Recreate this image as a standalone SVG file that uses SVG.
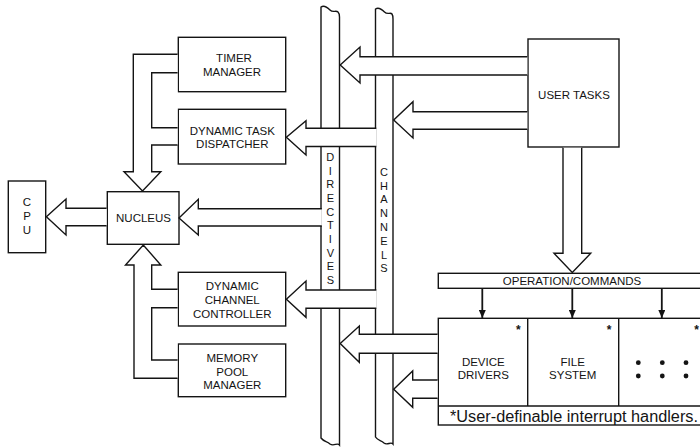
<svg xmlns="http://www.w3.org/2000/svg" width="700" height="447" viewBox="0 0 700 447">
<defs>
<style>
.bx{fill:#fff;stroke:#141414;stroke-width:1.4}
.ln{fill:none;stroke:#141414;stroke-width:1.4}
.ar{fill:#fff;stroke:#141414;stroke-width:1.4;stroke-linejoin:miter}
.t{font-family:"Liberation Sans",Arial,sans-serif;font-size:11.5px;fill:#141414;text-anchor:middle}
.v{font-family:"Liberation Sans",Arial,sans-serif;font-size:11px;fill:#141414;text-anchor:middle}
.st{font-family:"Liberation Sans",Arial,sans-serif;font-size:12px;font-weight:bold;fill:#141414;text-anchor:middle}
.fn{font-family:"Liberation Sans",Arial,sans-serif;font-size:16px;fill:#141414}
.sm{stroke:#141414;stroke-width:1.8;fill:none}
</style>
<marker id="ah" viewBox="0 0 8 7" refX="8" refY="3.5" markerWidth="8" markerHeight="7" markerUnits="userSpaceOnUse" orient="auto">
<path d="M0,0 L8,3.5 L0,7 Z" fill="#141414"/>
</marker>
</defs>
<rect width="700" height="447" fill="#fff"/>

<g id="bus-directives">
<path class="bx" d="M321,7 C324,5 327,7 330,10 C333,13 336,10 338,12 C339.5,13.5 339.5,15 339.5,17 V445 C337,442 334,447 330,444 C327,441 324,442 321,438 Z"/>
<text class="v" x="330.3" y="161">D</text>
<text class="v" x="330.3" y="174.7">I</text>
<text class="v" x="330.3" y="188.3">R</text>
<text class="v" x="330.3" y="202">E</text>
<text class="v" x="330.3" y="215.7">C</text>
<text class="v" x="330.3" y="229.3">T</text>
<text class="v" x="330.3" y="243">I</text>
<text class="v" x="330.3" y="256.7">V</text>
<text class="v" x="330.3" y="270.3">E</text>
<text class="v" x="330.3" y="284">S</text>
</g>

<g id="bus-channels">
<path class="bx" d="M375.5,9 C378.5,7 381.5,9 384.5,12 C387.5,15 390.5,12 392,14 C393,15.5 393,17 393,19 V444 C390.5,441 387.5,446 384,443 C381,440 378,441 375.5,437 Z"/>
<text class="v" x="384" y="175.7">C</text>
<text class="v" x="384" y="189.5">H</text>
<text class="v" x="384" y="203.3">A</text>
<text class="v" x="384" y="217.1">N</text>
<text class="v" x="384" y="230.9">N</text>
<text class="v" x="384" y="244.7">E</text>
<text class="v" x="384" y="258.5">L</text>
<text class="v" x="384" y="272.3">S</text>
</g>

<g id="cpu">
<rect class="bx" x="8.3" y="181" width="37.4" height="71.7"/>
<text class="t" x="27" y="205.8">C</text>
<text class="t" x="27" y="220.1">P</text>
<text class="t" x="27" y="234.4">U</text>
</g>

<g id="nucleus">
<rect class="bx" x="107.3" y="191.7" width="71.7" height="52.6"/>
<text class="t" x="143.5" y="222.3">NUCLEUS</text>
</g>

<g id="timer-manager">
<rect class="bx" x="178.3" y="37.3" width="107.4" height="54.4"/>
<text class="t" x="234" y="62.3">TIMER</text>
<text class="t" x="232" y="76.3">MANAGER</text>
</g>

<g id="dynamic-task-dispatcher">
<rect class="bx" x="178.3" y="109.3" width="107.4" height="54.7"/>
<text class="t" x="232.3" y="135">DYNAMIC TASK</text>
<text class="t" x="232.3" y="148.3">DISPATCHER</text>
</g>

<g id="dynamic-channel-controller">
<rect class="bx" x="178.3" y="272.3" width="107.4" height="53.7"/>
<text class="t" x="232.3" y="290.1">DYNAMIC</text>
<text class="t" x="232.3" y="304.1">CHANNEL</text>
<text class="t" x="232.3" y="318.1">CONTROLLER</text>
</g>

<g id="memory-pool-manager">
<rect class="bx" x="178.3" y="344" width="107.4" height="52.7"/>
<text class="t" x="232.3" y="361.8">MEMORY</text>
<text class="t" x="232.3" y="375.8">POOL</text>
<text class="t" x="232.3" y="389.3">MANAGER</text>
</g>

<g id="user-tasks">
<rect class="bx" x="528" y="39" width="91" height="108"/>
<text class="t" x="574" y="99.2">USER TASKS</text>
</g>

<g id="operation-commands">
<rect class="bx" x="438.3" y="273.3" width="270" height="15"/>
<text class="t" x="572" y="285.3">OPERATION/COMMANDS</text>
</g>

<g id="handlers">
<rect class="bx" x="438.3" y="318.3" width="270" height="106.7"/>
<line class="ln" x1="438.3" y1="406" x2="705" y2="406"/>
<line class="ln" x1="527.7" y1="318.3" x2="527.7" y2="406"/>
<line class="ln" x1="618.7" y1="318.3" x2="618.7" y2="406"/>
<g id="device-drivers">
<text class="st" x="518.3" y="333.5">*</text>
<text class="t" x="483.3" y="365.8">DEVICE</text>
<text class="t" x="483.3" y="379.2">DRIVERS</text>
</g>
<g id="file-system">
<text class="st" x="609" y="333.5">*</text>
<text class="t" x="572.7" y="365.8">FILE</text>
<text class="t" x="572.7" y="379.2">SYSTEM</text>
</g>
<g id="more-handlers">
<text class="st" x="696.7" y="333.5">*</text>
<circle cx="638.3" cy="362.7" r="2.4" fill="#141414"/>
<circle cx="662.3" cy="362.7" r="2.4" fill="#141414"/>
<circle cx="686" cy="362.7" r="2.4" fill="#141414"/>
<circle cx="638.3" cy="376" r="2.4" fill="#141414"/>
<circle cx="662.3" cy="376" r="2.4" fill="#141414"/>
<circle cx="686" cy="376" r="2.4" fill="#141414"/>
</g>
<text class="fn" x="450" y="421.5" textLength="248" lengthAdjust="spacingAndGlyphs">*User-definable interrupt handlers.</text>
</g>

<g id="connectors">
<!-- user tasks to directives -->
<path class="ar" d="M527.3,56.7 H360 V47 L340.2,65 L360,83 V75 H527.3"/>
<!-- user tasks to channels -->
<path class="ar" d="M527.3,111.7 H413 V101.7 L393.7,120 L413,138 V129.3 H527.3"/>
<!-- channels to dynamic task dispatcher -->
<path class="ar" d="M376.3,128.3 H306 V120.7 L286.4,137.3 L306,155 V146.5 H376.3"/>
<!-- directives to nucleus -->
<path class="ar" d="M321.8,208.7 H198.3 V199.3 L179,218 L198.3,235 V226 H321.8"/>
<!-- channels to dynamic channel controller -->
<path class="ar" d="M376.3,290 H306 V281 L286.4,299.3 L306,317.3 V308.3 H376.3"/>
<!-- device drivers to directives -->
<path class="ar" d="M437.6,334.3 H359.3 V326 L340.2,343.5 L359.3,362.3 V353.3 H437.6"/>
<!-- device drivers to channels -->
<path class="ar" d="M437.6,380 H412.7 V371 L393.7,389.3 L412.7,407.3 V398.3 H437.6"/>
<!-- nucleus to cpu -->
<path class="ar" d="M106.6,208.3 H66 V199 L46.4,216.8 L66,235 V225.7 H106.6"/>
<!-- timer manager + dispatcher to nucleus -->
<path class="ar" d="M177.6,54.3 H133.3 V171.7 H124 L142.5,191 L160.8,171.7 H151.7 V145 H177.6"/>
<path class="ln" d="M177.6,72.7 H151.7 V127.7 H177.6"/>
<!-- channel controller + memory pool to nucleus -->
<path class="ar" d="M177.6,378.3 H134 V265 H125.5 L143.3,245 L160.8,265 H151.7 V289.3 H177.6"/>
<path class="ln" d="M177.6,307.7 H151.7 V360 H177.6"/>
<!-- user tasks to operation/commands -->
<path class="ar" d="M563,147.7 V253.3 H554 L572.3,272.6 L590.7,253.3 H581.7 V147.7"/>
<!-- operation/commands to handlers -->
<line class="sm" x1="482.3" y1="289" x2="482.3" y2="318" marker-end="url(#ah)"/>
<line class="sm" x1="572.3" y1="289" x2="572.3" y2="318" marker-end="url(#ah)"/>
<line class="sm" x1="661.8" y1="289" x2="661.8" y2="318" marker-end="url(#ah)"/>
</g>
</svg>
